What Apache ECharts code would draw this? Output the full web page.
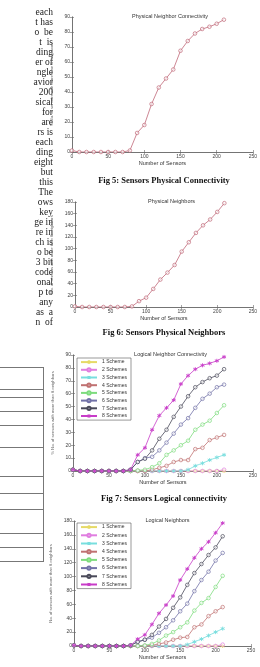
<!DOCTYPE html>
<html>
<head>
<meta charset="utf-8">
<script src="https://cdn.jsdelivr.net/npm/echarts@6/dist/echarts.min.js"></script>
<style>
  html, body { margin: 0; padding: 0; background: #fff; }
  #page { width: 260px; height: 667px; }
</style>
</head>
<body>
<div id="page"></div>
<script>
// sensor counts sampled in every plot
const sensorCounts = [0, 10, 20, 30, 40, 50, 60, 70, 80, 90, 100, 110, 120, 130, 140, 150, 160, 170, 180, 190, 200, 210];

// Fig 5 / Fig 6
const physConnectivity = [1, 0, 0, 0, 0, 0, 0, 0, 1, 12.7, 18, 32, 43, 49, 55, 67.5, 74, 79, 82, 83.5, 85.5, 88.2];
const physNeighbors = [1, 0, 0, 0, 0, 0, 0, 0, 1, 10, 16, 31, 47, 59, 72, 95, 111, 127, 140, 150, 163, 178];

// Fig 7: logical connectivity (%) per number of schemes
const schemeNames = ['1 Scheme', '2 Schemes', '3 Schemes', '4 Schemes', '5 Schemes', '6 Schemes', '7 Schemes', '8 Schemes'];
const logConn1 = [1, 0, 0, 0, 0, 0, 0, 0, 0, 0, 0, 0, 0, 0, 0, 0, 0, 0, 0, 0, 0, 0];
const logConn2 = [1, 0, 0, 0, 0, 0, 0, 0, 0, 0, 0, 0, 0, 0, 0, 0, 0, 0, 0, 0, 0, 1];
const logConn3 = [1, 0, 0, 0, 0, 0, 0, 0, 0, 0, 0, 0, 0, 0, 0, 0, 1, 4, 6, 8.5, 10.5, 12.5];
const logConn4 = [1, 0, 0, 0, 0, 0, 0, 0, 0, 0, 0, 1, 2.5, 4, 7, 8.5, 8.5, 17, 18, 24, 26, 28];
const logConn5 = [1, 0, 0, 0, 0, 0, 0, 0, 0, 0.5, 1, 3, 6, 12.5, 16, 20, 23.5, 32, 36, 39, 45, 51];
const logConn6 = [1, 0, 0, 0, 0, 0, 0, 0, 1, 7, 10, 11, 16, 22, 29, 36, 41, 49, 56, 60, 65, 67];
const logConn7 = [1, 0, 0, 0, 0, 0, 0, 0, 1, 7, 9.5, 16, 25, 32, 42, 50, 58, 65, 69, 72, 74, 79];
const logConn8 = [1, 0, 0, 0, 0, 0, 0, 0, 1, 12.5, 18, 32, 43, 49, 55, 67.5, 74, 79, 82, 83.5, 85.5, 88.5];

// Fig 8: logical neighbors per number of schemes
const logNb1 = [1, 0, 0, 0, 0, 0, 0, 0, 0, 0, 0, 0, 0, 0, 0, 0, 0, 0, 0, 0, 0, 0];
const logNb2 = [1, 0, 0, 0, 0, 0, 0, 0, 0, 0, 0, 0, 0, 0, 0, 0, 0, 0, 0, 0, 0, 2];
const logNb3 = [1, 0, 0, 0, 0, 0, 0, 0, 0, 0, 0, 0, 0, 0, 0, 0, 2, 6, 10, 15, 20, 25];
const logNb4 = [1, 0, 0, 0, 0, 0, 0, 0, 0, 0, 0, 1, 3, 5, 9, 12, 13, 27, 31, 43, 50, 56];
const logNb5 = [1, 0, 0, 0, 0, 0, 0, 0, 0, 0, 1, 3, 8, 15, 20, 27, 34, 51, 62, 69, 85, 101];
const logNb6 = [1, 0, 0, 0, 0, 0, 0, 0, 1, 6, 9, 12, 19, 27, 37, 50, 61, 79, 95, 107, 123, 134];
const logNb7 = [1, 0, 0, 0, 0, 0, 0, 0, 1, 6, 9, 16, 28, 39, 55, 70, 88, 105, 118, 131, 142, 158];
const logNb8 = [1, 0, 0, 0, 0, 0, 0, 0, 1, 10, 16, 31, 47, 59, 72, 95, 111, 127, 140, 150, 163, 177];

// page text around the figures
const plotTitles = ['Physical Neighbor Connectivity', 'Physical Neighbors', 'Logical Neighbor Connectivity', 'Logical Neighbors'];
const yNames = ['% No. of sensors with more than 8 neighbors', 'No. of sensors with more than 8 neighbors',
  '% No. of sensors with more than 8 neighbors', 'No. of sensors with more than 8 neighbors'];
const captions = ['Fig 5: Sensors Physical Connectivity', 'Fig 6: Sensors Physical Neighbors', 'Fig 7: Sensors Logical connectivity'];
const leftText = ['each', 't has', 'o  be', 't  is', 'ding', 'er of', 'ngle', 'avior', '200', 'sical', 'for', 'are',
  'rs is', 'each', 'ding', 'eight', 'but', 'this', 'The', 'ows', 'key', 'ge in', 're in', 'ch is', 'o be',
  '3 bit', 'code', 'onal', 'p to', 'any', 'as  a', 'n  of'];

const SANS = '"Liberation Sans", Arial, sans-serif';
const SERIF = '"Liberation Serif", "Times New Roman", serif';
const schemeColors = ['#e6da66', '#e07ee0', '#78dede', '#c07272', '#7edc7e', '#7272a8', '#4a4a5a', '#c83cc8'];
const asterisk = 'path://M5,0L5,10M0.7,2.5L9.3,7.5M0.7,7.5L9.3,2.5';
const schemeSymbols = [asterisk, 'circle', asterisk, 'circle', 'circle', 'circle', 'circle', asterisk];

const grids = [
  { left: 72, top: 17, width: 186, height: 135 },
  { left: 75, top: 202, width: 183, height: 105 },
  { left: 73, top: 355, width: 185, height: 116 },
  { left: 74, top: 521, width: 177, height: 125 }
];
const yMax = [90, 180, 90, 180];
const yStep = [10, 20, 10, 20];
const captionY = [181, 333, 499];

const axisColor = '#666';
const xAxes = [];
const yAxes = [];
grids.forEach((g, i) => {
  const tick = { show: true, inside: true, length: 2, lineStyle: { color: axisColor, width: 0.6 } };
  const line = { show: true, lineStyle: { color: axisColor, width: 0.7 } };
  xAxes.push({
    type: 'value', gridIndex: i, min: 0, max: 250, interval: 50,
    axisLine: line, axisTick: tick, splitLine: { show: false },
    axisLabel: { fontSize: 5, color: '#444', margin: 2, fontFamily: SANS },
    name: 'Number of Sensors', nameLocation: 'middle', nameGap: 8,
    nameTextStyle: { fontSize: 5.5, color: '#333', fontFamily: SANS }
  });
  xAxes.push({
    type: 'value', gridIndex: i, min: 0, max: 250, interval: 50, position: 'top',
    axisLine: line, axisTick: tick, axisLabel: { show: false }, splitLine: { show: false }
  });
  yAxes.push({
    type: 'value', gridIndex: i, min: 0, max: yMax[i], interval: yStep[i],
    axisLine: line, axisTick: tick, splitLine: { show: false },
    axisLabel: { fontSize: 5, color: '#444', margin: 2, fontFamily: SANS },
    name: yNames[i], nameLocation: 'middle', nameGap: 9,
    nameTextStyle: { fontSize: 4.2, color: '#666', fontFamily: SANS }
  });
  yAxes.push({
    type: 'value', gridIndex: i, min: 0, max: yMax[i], interval: yStep[i], position: 'right',
    axisLine: line, axisTick: tick, axisLabel: { show: false }, splitLine: { show: false }
  });
});

function pairs(values) {
  return sensorCounts.map((x, k) => [x, values[k]]);
}

// hollow markers: white fill, coloured outline
function curve(name, values, gi, color, symbol) {
  const star = symbol.indexOf('path://') === 0;
  return {
    name: name, type: 'line', xAxisIndex: gi * 2, yAxisIndex: gi * 2,
    data: pairs(values), symbol: symbol, symbolSize: star ? 4 : 3.6,
    lineStyle: { color: color, width: 0.8 },
    itemStyle: { color: star ? color : 'rgba(255,255,255,0.6)', borderColor: color, borderWidth: star ? 0.9 : 0.7 }
  };
}

const series = [
  curve('Physical', physConnectivity, 0, '#c06878', 'circle'),
  curve('Physical', physNeighbors, 1, '#c06878', 'circle')
];
const logConn = [logConn1, logConn2, logConn3, logConn4, logConn5, logConn6, logConn7, logConn8];
const logNb = [logNb1, logNb2, logNb3, logNb4, logNb5, logNb6, logNb7, logNb8];
schemeNames.forEach((n, k) => series.push(curve(n, logConn[k], 2, schemeColors[k], schemeSymbols[k])));
schemeNames.forEach((n, k) => series.push(curve(n, logNb[k], 3, schemeColors[k], schemeSymbols[k])));

function legendAt(top, gap) {
  return {
    data: schemeNames, orient: 'vertical', left: 77, top: top,
    itemWidth: 16, itemHeight: 4, itemGap: gap, padding: [1.5, 4, 1.5, 3],
    borderColor: '#555', borderWidth: 0.6, backgroundColor: '#fff',
    selectedMode: false,
    textStyle: { fontSize: 5, color: '#333', fontFamily: SANS }
  };
}

// left page column: ends of justified text lines and a table frame
const graphic = [];
leftText.forEach((t, k) => {
  graphic.push({
    type: 'text', silent: true,
    style: { text: t, x: 53, y: 12 + k * 10, align: 'right', verticalAlign: 'middle', font: '9.5px ' + SERIF, fill: '#222' }
  });
});
[367, 389, 397, 411, 425, 447, 476, 493, 509, 533, 547, 561].forEach(y => {
  graphic.push({ type: 'line', silent: true, shape: { x1: 0, y1: y + 0.5, x2: 43, y2: y + 0.5 }, style: { stroke: '#777', lineWidth: 1 } });
});
graphic.push({ type: 'line', silent: true, shape: { x1: 43.5, y1: 367, x2: 43.5, y2: 562 }, style: { stroke: '#777', lineWidth: 1 } });
captions.forEach((c, k) => {
  graphic.push({
    type: 'text', silent: true,
    style: { text: c, x: 164, y: captionY[k], align: 'center', verticalAlign: 'middle', font: 'bold 8.5px ' + SERIF, fill: '#111' }
  });
});

const titles = grids.map((g, i) => ({
  text: plotTitles[i], left: g.left + g.width / 2, top: g.top - 8.5, textAlign: 'center',
  textStyle: { fontSize: 5.5, fontWeight: 'normal', color: '#333', fontFamily: SANS }
}));

const chart = echarts.init(document.getElementById('page'), null, { renderer: 'canvas', width: 260, height: 667 });
chart.setOption({
  animation: false,
  backgroundColor: '#fff',
  title: titles,
  grid: grids,
  xAxis: xAxes,
  yAxis: yAxes,
  legend: [legendAt(358, 2.5), legendAt(523, 3)],
  graphic: graphic,
  series: series
});
</script>
</body>
</html>
